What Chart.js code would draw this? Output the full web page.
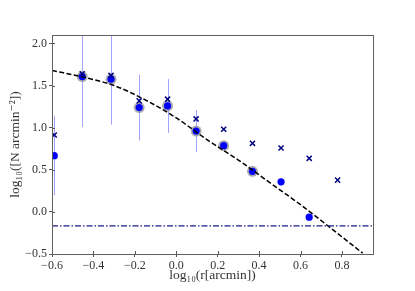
<!DOCTYPE html>
<html><head><meta charset="utf-8">
<script src="https://cdn.jsdelivr.net/npm/chart.js@4/dist/chart.umd.min.js"></script>
<style>html,body{margin:0;padding:0;background:#fff;}#wrap{width:415px;height:291px;}</style>
</head><body><div id="wrap"><canvas id="c" width="415" height="291"></canvas></div>
<script>
// data
const rObs   = [-0.589,-0.454,-0.315,-0.179,-0.042,0.096,0.229,0.368,0.506,0.642];
const yObs   = [0.667,1.607,1.576,1.238,1.258,0.960,0.786,0.481,0.357,-0.063];
const yErr   = [0.47,0.60,0.54,0.39,0.32,0.25,0.05,0.03,0.04,0.02];
const haloIdx = [1,2,3,4,5,6,7];
const rCross = [-0.589,-0.454,-0.315,-0.179,-0.042,0.096,0.229,0.368,0.506,0.642,0.779];
const yCross = [0.913,1.64,1.62,1.318,1.338,1.104,0.981,0.814,0.758,0.636,0.377];
const rFit   = [-0.6,-0.45,-0.3,-0.15,0.0,0.15,0.3,0.45,0.6,0.75,0.9];
const yFit   = [1.68,1.60,1.50,1.33,1.115,0.855,0.615,0.35,0.085,-0.20,-0.49];
const bgLevel = -0.167;
const xRange = [-0.6, 0.95];
const yRange = [-0.5, 2.1];
const xTicks = [-0.6,-0.4,-0.2,0.0,0.2,0.4,0.6,0.8];
const yTicks = [-0.5,0.0,0.5,1.0,1.5,2.0];

const pts = (xs, ys) => xs.map((x,i)=>({x:x, y:ys[i]}));
const fmt = v => (v < -1e-9 ? '\u2212' : '') + Math.abs(v).toFixed(1);
const FONT = "'Liberation Serif', 'DejaVu Serif', serif";

const errPlugin = {
  id: 'err',
  beforeDatasetsDraw(chart) {
    const {ctx, chartArea: a, scales: {x, y}} = chart;
    ctx.save();
    ctx.beginPath(); ctx.rect(a.left, a.top, a.right - a.left, a.bottom - a.top); ctx.clip();
    ctx.strokeStyle = 'rgba(100,100,255,0.6)';
    ctx.lineWidth = 1;
    rObs.forEach((r, i) => {
      const px = Math.round(x.getPixelForValue(r)) + 0.5;
      ctx.beginPath();
      ctx.moveTo(px, y.getPixelForValue(yObs[i] - yErr[i]));
      ctx.lineTo(px, y.getPixelForValue(yObs[i] + yErr[i]));
      ctx.stroke();
    });
    ctx.restore();
  },
  afterDraw(chart) {
    const {ctx, chartArea: a, scales: {x, y}} = chart;
    ctx.save();
    ctx.strokeStyle = '#555';
    ctx.lineWidth = 1;
    xTicks.forEach(v => {
      const px = Math.round(x.getPixelForValue(v)) + 0.5;
      ctx.beginPath(); ctx.moveTo(px, a.bottom); ctx.lineTo(px, a.bottom - 3); ctx.stroke();
    });
    yTicks.forEach(v => {
      const py = Math.round(y.getPixelForValue(v)) + 0.5;
      ctx.beginPath(); ctx.moveTo(a.left, py); ctx.lineTo(a.left + 3, py); ctx.stroke();
    });
    ctx.strokeStyle = '#606060';
    ctx.strokeRect(Math.round(a.left)+0.5, Math.round(a.top)+0.5, Math.round(a.right - a.left), Math.round(a.bottom - a.top));
    ctx.restore();
  }
};

new Chart(document.getElementById('c'), {
  type: 'scatter',
  data: {
    datasets: [
      { label: 'halo', data: haloIdx.map(i => ({x: rObs[i], y: yObs[i]})),
        pointRadius: 5.5, pointBackgroundColor: 'rgba(140,140,140,0.7)', pointBorderWidth: 0, order: 5 },
      { label: 'obs', data: pts(rObs, yObs),
        pointRadius: 3.6, pointBackgroundColor: '#0000ff', pointBorderWidth: 0, order: 4 },
      { label: 'cross', data: pts(rCross, yCross), pointStyle: 'crossRot',
        pointRadius: 3.6, pointBorderColor: '#000080', pointBorderWidth: 1.5, order: 3 },
      { label: 'fit', data: pts(rFit, yFit), showLine: true, pointRadius: 0,
        borderColor: '#000', borderWidth: 1.5, borderDash: [5, 2.4], tension: 0.4,
        cubicInterpolationMode: 'monotone', order: 2 },
      { label: 'bg', data: [{x: xRange[0], y: bgLevel}, {x: xRange[1], y: bgLevel}], showLine: true,
        pointRadius: 0, borderColor: '#1a1a8a', borderWidth: 1.3, borderDash: [6, 2, 1.5, 2], order: 1 }
    ]
  },
  options: {
    responsive: false, animation: false, devicePixelRatio: 1,
    layout: { padding: { top: 35, right: 42, left: 0, bottom: 0 } },
    plugins: { legend: { display: false }, tooltip: { enabled: false } },
    scales: {
      x: {
        type: 'linear', min: xRange[0], max: xRange[1],
        afterBuildTicks: s => { s.ticks = xTicks.map(v => ({value: v})); },
        afterFit: s => { s.height = 37; },
        border: { display: true, color: '#808080', width: 1 },
        grid: { display: true, drawOnChartArea: false, tickLength: 3, color: '#555' },
        ticks: { callback: v => fmt(v), color: '#333', padding: 2, maxRotation: 0,
                 font: { family: FONT, size: 12 } },
        title: { display: true, text: 'log\u2081\u2080(r[arcmin])', color: '#333', padding: {top: 0, bottom: 7},
                 font: { family: FONT, size: 13.5 } }
      },
      y: {
        type: 'linear', min: yRange[0], max: yRange[1],
        afterBuildTicks: s => { s.ticks = yTicks.map(v => ({value: v})); },
        afterFit: s => { s.width = 52; },
        border: { display: true, color: '#808080', width: 1 },
        grid: { display: true, drawOnChartArea: false, tickLength: 3, color: '#555' },
        ticks: { callback: v => fmt(v), color: '#333', padding: 2,
                 font: { family: FONT, size: 12 } },
        title: { display: true, text: 'log\u2081\u2080([N arcmin\u207B\u00B2])', color: '#333', padding: {top: 7, bottom: 0},
                 font: { family: FONT, size: 13.5 } }
      }
    }
  },
  plugins: [errPlugin]
});
</script></body></html>
